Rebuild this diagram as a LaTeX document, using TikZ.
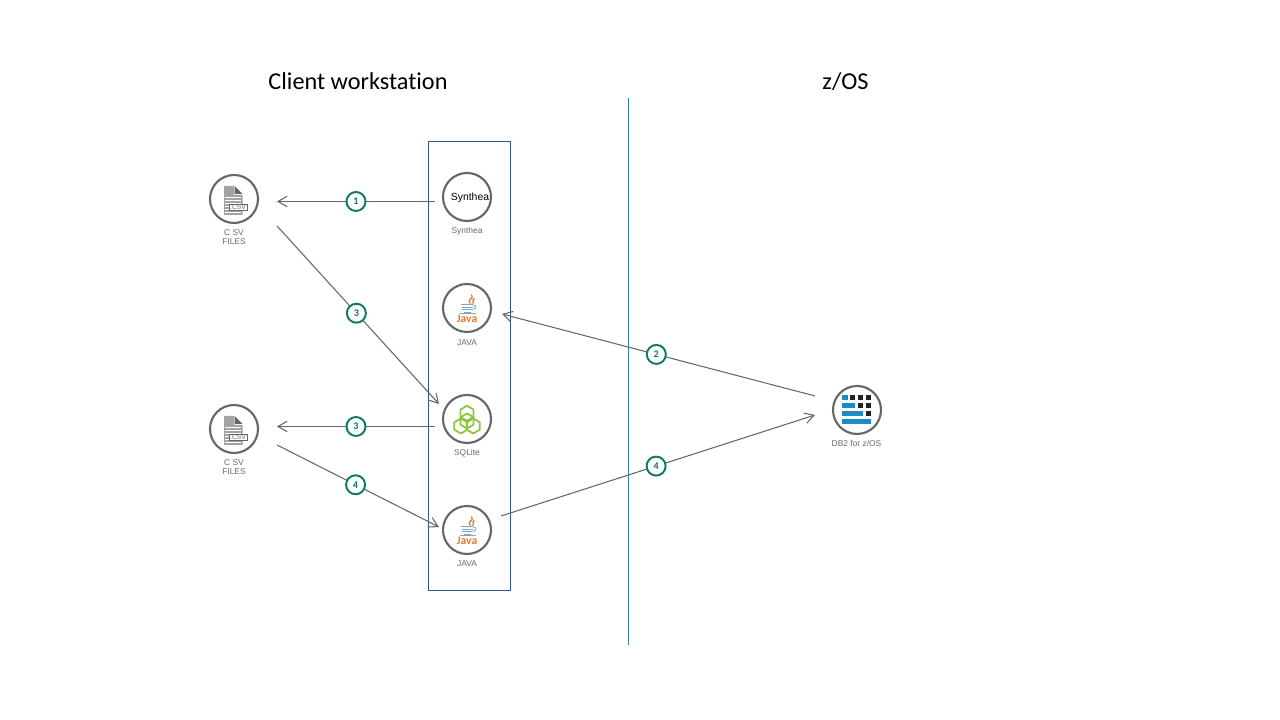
\documentclass[tikz,border=0pt]{standalone}
\usepackage{fontspec}
\setmainfont{Carlito}[RawFeature={-liga}]
\newfontfamily\labelfont{Liberation Sans}
\usetikzlibrary{arrows.meta}
\definecolor{boxblue}{HTML}{2F5597}
\definecolor{lineblue}{HTML}{3A78B5}
\definecolor{ringgray}{HTML}{666666}
\definecolor{textgray}{HTML}{6A6A6A}
\definecolor{badgegreen}{HTML}{0F7A62}
\definecolor{javaorange}{HTML}{E8782A}
\definecolor{javablue}{HTML}{7FA6C4}
\definecolor{litegreen}{HTML}{8CC63F}
\definecolor{dbblue}{HTML}{1F8AC8}
\definecolor{dbblack}{HTML}{222222}
\tikzset{
  ring/.style={circle, draw=ringgray, line width=.6pt, fill=white, minimum size=.48cm, inner sep=0pt},
  iconlabel/.style={font=\labelfont\fontsize{2.4}{2.55}\selectfont, text=textgray, align=center, inner sep=0pt},
  title/.style={font=\fontsize{6.9}{8}\selectfont, inner sep=0pt},
  badge/.style={circle, draw=badgegreen, line width=.55pt, fill=white, minimum size=.19cm, inner sep=0pt,
    text=badgegreen, font=\bfseries\fontsize{2.9}{3}\selectfont},
  flow/.style={draw=ringgray, line width=.3pt, -{Straight Barb[length=2.6pt,width=3pt,line width=.3pt]}},
  pics/csvicon/.style={code={
    \fill[ringgray!60] (-.1,.13) -- (0,.13) -- (0,.04) -- (.085,.04) -- (.085,-.16) -- (-.1,-.16) -- cycle;
    \fill[ringgray] (.005,.13) -- (.085,.05) -- (.005,.05) -- cycle;
    \foreach \rowy in {.015,-.015,-.045,-.075,-.105,-.135}
      \draw[white, line width=.2pt] (-.09,\rowy) -- (.07,\rowy);
    \draw[ringgray, fill=white, line width=.25pt] (-.05,-.115) rectangle (.135,-.05);
    \node[font=\labelfont\fontsize{1.9}{2}\selectfont, text=ringgray, inner sep=0pt] (-tag) at (.04,-.083) {.CSV};
  }},
  pics/javaicon/.style={code={
    \draw[javaorange, line width=.35pt] (.045,.135) .. controls (.08,.09) and (-.01,.09) .. (.035,.045);
    \draw[javaorange, line width=.35pt] (.075,.095) .. controls (.035,.08) and (.085,.065) .. (.055,.045);
    \foreach \cupy/\cupw in {.035/.06,.01/.055,-.015/.05,-.04/.035}
      \draw[javablue, line width=.22pt] (-\cupw,\cupy) -- (\cupw,\cupy);
    \draw[javablue, line width=.22pt] (.06,.03) .. controls (.1,.03) and (.1,-.01) .. (.055,-.015);
    \draw[javablue, line width=.22pt] (-.07,-.05) -- (.085,-.05);
    \node[font=\bfseries\fontsize{3.3}{3.5}\selectfont, text=javaorange, inner sep=0pt] (-word) at (0,-.11) {Java};
  }},
  pics/liteicon/.style={code={
    \foreach \hexx/\hexy in {0/.057,-.062/-.07,.062/-.07,0/-.02}
      \draw[litegreen, line width=.5pt, line join=round] (\hexx,\hexy) ++(90:.075) -- ++(-30:.075) -- ++(-90:.075)
        -- ++(-150:.075) -- ++(150:.075) -- ++(90:.075) -- cycle;
  }},
  pics/dbicon/.style={code={
    \foreach \rowy/\barw in {.15/.055,.07/.13,-.01/.21,-.09/.29}
      \fill[dbblue] (-.15,\rowy) rectangle ++(\barw,-.05);
    \foreach \colx/\rowy in {-.07/.15,.01/.15,.09/.15,.01/.07,.09/.07,.09/-.01}
      \fill[dbblack] (\colx,\rowy) rectangle ++(.053,-.05);
  }},
}
\begin{document}
\begin{tikzpicture}
  \useasboundingbox (0,0) rectangle (12.8,7.2);
  % headings and separator
  \node[title] (clientTitle) at (3.58,6.385) {Client workstation};
  \node[title] (zosTitle) at (8.455,6.385) {z/OS};
  \coordinate (sepTop) at (6.285,6.22);
  \coordinate (sepBottom) at (6.285,.75);
  \draw[lineblue, line width=.3pt] (sepTop) -- (sepBottom);
  \node[draw=boxblue, line width=.3pt, minimum width=.82cm, minimum height=4.49cm, inner sep=0pt] (clientBox) at (4.695,3.54) {};

  % icons
  \node[ring] (csvA) at (2.34,5.21) {};
  \pic (csvAicon) at (2.34,5.21) {csvicon};
  \node[iconlabel] (csvAlabel) at (2.34,4.825) {C SV\\FILES};
  \node[ring] (csvB) at (2.34,2.91) {};
  \pic (csvBicon) at (2.34,2.91) {csvicon};
  \node[iconlabel] (csvBlabel) at (2.34,2.525) {C SV\\FILES};
  \node[ring] (synthea) at (4.67,5.23) {};
  \node[font=\labelfont\fontsize{2.95}{3.2}\selectfont, inner sep=0pt] (syntheaText) at (4.7,5.225) {Synthea};
  \node[iconlabel] (syntheaLabel) at (4.67,4.885) {Synthea};
  \node[ring] (javaA) at (4.67,4.12) {};
  \pic (javaAicon) at (4.67,4.12) {javaicon};
  \node[iconlabel] (javaAlabel) at (4.67,3.775) {JAVA};
  \node[ring] (sqlite) at (4.67,3.01) {};
  \pic (liteIcon) at (4.67,3.01) {liteicon};
  \node[iconlabel] (sqliteLabel) at (4.67,2.665) {SQLite};
  \node[ring] (javaB) at (4.67,1.9) {};
  \pic (javaBicon) at (4.67,1.9) {javaicon};
  \node[iconlabel] (javaBlabel) at (4.67,1.565) {JAVA};
  \node[ring] (db) at (8.57,3.1) {};
  \pic (dbIcon) at (8.57,3.1) {dbicon};
  \node[iconlabel] (dbLabel) at (8.565,2.77) {DB2 for z/OS};

  % connector ends
  \coordinate (syntheaOut) at (4.35,5.185);
  \coordinate (csvAin) at (2.77,5.185);
  \coordinate (csvAout) at (2.77,4.94);
  \coordinate (sqliteIn) at (4.39,3.16);
  \coordinate (sqliteOut) at (4.35,2.935);
  \coordinate (csvBin) at (2.77,2.935);
  \coordinate (csvBout) at (2.77,2.75);
  \coordinate (javaBin) at (4.39,1.93);
  \coordinate (javaBout) at (5.01,2.04);
  \coordinate (dbInB) at (8.15,3.05);
  \coordinate (dbOut) at (8.15,3.24);
  \coordinate (javaAin) at (5.02,4.06);

  % numbered flows
  \draw[flow] (syntheaOut) -- node[badge, pos=.5] (stepA) {1} (csvAin);
  \draw[flow] (csvAout) -- node[badge, pos=.49] (stepB) {3} (sqliteIn);
  \draw[flow] (sqliteOut) -- node[badge, pos=.5] (stepC) {3} (csvBin);
  \draw[flow] (csvBout) -- node[badge, pos=.485] (stepD) {4} (javaBin);
  \draw[flow] (dbOut) -- node[badge, pos=.507] (stepE) {2} (javaAin);
  \draw[flow] (javaBout) -- node[badge, pos=.494] (stepF) {4} (dbInB);
\end{tikzpicture}
\end{document}
